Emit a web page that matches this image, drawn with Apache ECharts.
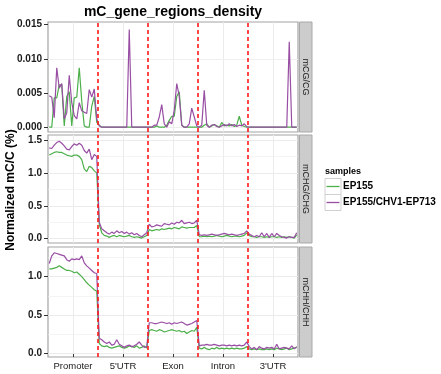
<!DOCTYPE html>
<html><head><meta charset="utf-8">
<script src="https://cdn.jsdelivr.net/npm/echarts@6/dist/echarts.min.js"></script>
<style>html,body{margin:0;padding:0;background:#fff}#c{width:441px;height:374px}</style>
</head><body><div id="c"></div>
<script>
// ---------- data ----------
const regions = ["Promoter", "5'UTR", "Exon", "Intron", "3'UTR"];
const sampleNames = ["EP155", "EP155/CHV1-EP713"];
const contexts = ["mCG/CG", "mCHG/CHG", "mCHH/CHH"];
const binsPerRegion = 20;

// mCG/CG
const cgEP155 = [
  0, 0, 0.0043, 0.0043, 0.0062, 0.0062, 0.0002, 0.0045, 0.0052, 0.0002, 0.0043, 0.0044, 0.0087, 0.0038, 0.0002, 0, 0, 0.0031, 0.0045, 0.0007,
  0.0003, 0, 0, 0, 0, 0, 0, 0, 0, 0, 0, 0, 0, 0, 0, 0, 0, 0, 0, 0,
  0, 0, 0, 0.0002, 0, 0, 0, 0.0003, 0.0010, 0.0016, 0.0016, 0.0045, 0.0052, 0.0003, 0, 0, 0, 0, 0, 0,
  0, 0, 0.0003, 0.0005, 0, 0.0002, 0.0004, 0.0002, 0, 0.0007, 0.0002, 0.0003, 0.0002, 0.0004, 0.0001, 0.0003, 0.0016, 0.0003, 0.0001, 0,
  0, 0, 0, 0, 0, 0, 0, 0, 0, 0, 0, 0, 0, 0, 0, 0, 0, 0, 0, 0
];
const cgEP713 = [
  0.0046, 0.0044, 0.0014, 0.0087, 0.0057, 0.0064, 0.0012, 0.0021, 0.0076, 0.0036, 0.0017, 0.0012, 0.0036, 0.0024, 0.0022, 0.0020, 0.0055, 0.0044, 0.0056, 0.0012,
  0.0002, 0, 0, 0, 0, 0, 0, 0, 0, 0, 0, 0, 0.0143, 0, 0, 0, 0, 0, 0, 0,
  0, 0, 0.0003, 0.0003, 0.0015, 0.0033, 0.0005, 0, 0.0008, 0.0005, 0.0025, 0.0064, 0.0045, 0.0003, 0, 0, 0.0005, 0.0028, 0.0015, 0.0002,
  0, 0.0003, 0.0054, 0.0003, 0, 0.0003, 0.0004, 0.0001, 0, 0.0002, 0.0004, 0.0002, 0.0005, 0.0002, 0.0004, 0.0001, 0.0003, 0.0002, 0.0005, 0.0001,
  0, 0, 0, 0, 0, 0, 0, 0, 0, 0, 0, 0, 0, 0, 0, 0, 0.0125, 0, 0, 0
];
// mCHG/CHG
const chgEP155 = [
  1.27, 1.29, 1.31, 1.32, 1.31, 1.31, 1.29, 1.27, 1.26, 1.25, 1.27, 1.27, 1.25, 1.20, 1.06, 1.02, 1.10, 1.08, 1.03, 1.00,
  0.22, 0.09, 0.05, 0.04, 0.02, 0.04, 0.05, 0.03, 0.05, 0.04, 0.03, 0.04, 0.05, 0.03, 0.02, 0.03, 0.02, 0.01, 0.03, 0.05,
  0.14, 0.12, 0.13, 0.14, 0.13, 0.15, 0.14, 0.15, 0.16, 0.15, 0.17, 0.16, 0.15, 0.18, 0.17, 0.16, 0.17, 0.17, 0.17, 0.20,
  0.03, 0.03, 0.04, 0.03, 0.04, 0.03, 0.04, 0.05, 0.04, 0.03, 0.04, 0.05, 0.04, 0.03, 0.04, 0.04, 0.03, 0.04, 0.05, 0.09,
  0.05, 0.03, 0.03, 0.02, 0.03, 0.03, 0.02, 0.03, 0.02, 0.03, 0.03, 0.02, 0.03, 0.02, 0.03, 0.02, 0.03, 0.02, 0.01, 0.06
];
const chgEP713 = [
  1.38, 1.37, 1.42, 1.46, 1.48, 1.45, 1.41, 1.36, 1.35, 1.40, 1.44, 1.42, 1.45, 1.42, 1.34, 1.30, 1.36, 1.20, 1.28, 1.25,
  0.25, 0.15, 0.12, 0.09, 0.07, 0.10, 0.08, 0.12, 0.09, 0.11, 0.08, 0.10, 0.07, 0.09, 0.06, 0.08, 0.05, 0.03, 0.06, 0.09,
  0.22, 0.18, 0.19, 0.21, 0.20, 0.19, 0.23, 0.22, 0.21, 0.24, 0.22, 0.25, 0.24, 0.28, 0.23, 0.24, 0.25, 0.23, 0.24, 0.28,
  0.06, 0.05, 0.06, 0.05, 0.06, 0.07, 0.06, 0.05, 0.06, 0.07, 0.08, 0.07, 0.06, 0.07, 0.06, 0.05, 0.06, 0.07, 0.08, 0.12,
  0.07, 0.05, 0.03, 0.05, 0.03, 0.09, 0.03, 0.08, 0.02, 0.08, 0.03, 0.08, 0.05, 0.03, 0.02, 0.01, 0.03, 0.02, 0.02, 0.09
];
// mCHH/CHH
const chhEP155 = [
  1.10, 1.10, 1.11, 1.12, 1.14, 1.12, 1.10, 1.08, 1.08, 1.07, 1.05, 1.06, 1.03, 1.00, 0.96, 0.92, 0.89, 0.86, 0.83, 0.81,
  0.13, 0.10, 0.09, 0.10, 0.08, 0.07, 0.08, 0.09, 0.10, 0.08, 0.07, 0.08, 0.10, 0.09, 0.08, 0.10, 0.07, 0.08, 0.10, 0.07,
  0.30, 0.31, 0.30, 0.29, 0.31, 0.30, 0.28, 0.29, 0.30, 0.31, 0.30, 0.29, 0.30, 0.28, 0.29, 0.26, 0.28, 0.30, 0.29, 0.34,
  0.07, 0.06, 0.08, 0.06, 0.05, 0.07, 0.06, 0.08, 0.06, 0.07, 0.06, 0.07, 0.06, 0.07, 0.06, 0.07, 0.06, 0.06, 0.07, 0.09,
  0.06, 0.05, 0.06, 0.05, 0.06, 0.05, 0.05, 0.06, 0.05, 0.06, 0.05, 0.07, 0.06, 0.05, 0.06, 0.07, 0.05, 0.06, 0.07, 0.08
];
const chhEP713 = [
  1.17, 1.27, 1.31, 1.30, 1.29, 1.28, 1.27, 1.22, 1.20, 1.23, 1.22, 1.23, 1.22, 1.27, 1.18, 1.14, 1.11, 1.08, 1.05, 1.04,
  0.20, 0.18, 0.15, 0.13, 0.15, 0.11, 0.12, 0.18, 0.12, 0.10, 0.08, 0.10, 0.11, 0.09, 0.10, 0.12, 0.15, 0.11, 0.08, 0.09,
  0.40, 0.40, 0.39, 0.39, 0.40, 0.41, 0.40, 0.39, 0.40, 0.38, 0.40, 0.39, 0.40, 0.41, 0.39, 0.37, 0.38, 0.39, 0.41, 0.43,
  0.10, 0.11, 0.11, 0.12, 0.11, 0.11, 0.12, 0.11, 0.10, 0.11, 0.11, 0.10, 0.11, 0.10, 0.11, 0.10, 0.11, 0.10, 0.11, 0.15,
  0.09, 0.06, 0.08, 0.05, 0.09, 0.07, 0.06, 0.08, 0.07, 0.08, 0.06, 0.12, 0.06, 0.07, 0.08, 0.07, 0.06, 0.10, 0.06, 0.09
];

// tick labels / grid breaks
const cgTicks = [0, 0.005, 0.010, 0.015];
const cgMinor = [0.0025, 0.0075, 0.0125];
const chgTicks = [0, 0.5, 1.0, 1.5];
const chgMinor = [0.25, 0.75, 1.25];
const chhTicks = [0, 0.5, 1.0];
const chhMinor = [0.25, 0.75, 1.25];

// ---------- layout / style ----------
const colors = ['#4DAF4A', '#984EA3'];
const FONT = '"Liberation Sans", Arial, Helvetica, sans-serif';
const plotLeft = 48, plotWidth = 250;
const gridTops = [22, 135, 247];
const gridHeights = [110, 108, 110];

const panels = [
  { series: [cgEP155, cgEP713], min: -0.0007, max: 0.0154, ticks: cgTicks, minor: cgMinor, digits: 3 },
  { series: [chgEP155, chgEP713], min: -0.065, max: 1.575, ticks: chgTicks, minor: chgMinor, digits: 1 },
  { series: [chhEP155, chhEP713], min: -0.045, max: 1.385, ticks: chhTicks, minor: chhMinor, digits: 1 }
];

const xMax = regions.length * binsPerRegion;
const boundaries = regions.slice(1).map((_, i) => (i + 1) * binsPerRegion);
const labelPos = regions.map((_, i) => i * binsPerRegion + binsPerRegion / 2);
const toXY = arr => arr.map((v, i) => [i + 0.5, v]);

const grid = [], xAxis = [], yAxis = [], series = [], graphic = [];

panels.forEach((p, gi) => {
  const isLast = gi === panels.length - 1;
  grid.push({ left: plotLeft, width: plotWidth, top: gridTops[gi], height: gridHeights[gi],
    show: true, backgroundColor: '#ffffff', borderColor: '#a3a3a3', borderWidth: 1.2 });
  xAxis.push({
    type: 'value', gridIndex: gi, min: 0, max: xMax, interval: binsPerRegion / 2,
    axisLine: { show: false },
    axisTick: { show: isLast, customValues: labelPos, length: 3.5, lineStyle: { color: '#333', width: 1 } },
    axisLabel: { show: isLast, customValues: labelPos, margin: 4.5, fontSize: 9.5, color: '#1a1a1a', fontFamily: FONT,
      formatter: v => regions[Math.round((v - binsPerRegion / 2) / binsPerRegion)] || '' },
    splitLine: { show: true, lineStyle: { color: '#ebebeb', width: 1 } }
  });
  yAxis.push({
    type: 'value', gridIndex: gi, min: p.min, max: p.max, splitNumber: 3,
    axisLine: { show: false },
    axisTick: { show: true, customValues: p.ticks, length: 4, lineStyle: { color: '#333', width: 1 } },
    axisLabel: { show: true, customValues: p.ticks, margin: 6, fontSize: 10, fontWeight: 'bold', color: '#1a1a1a', fontFamily: FONT,
      formatter: v => Number(v).toFixed(p.digits) },
    splitLine: { show: false }
  });
  // background grid lines (major + minor horizontal breaks)
  series.push({
    type: 'line', xAxisIndex: gi, yAxisIndex: gi, data: [], silent: true,
    markLine: { silent: true, symbol: 'none', animation: false, z: 1, label: { show: false },
      data: p.ticks.map(v => ({ yAxis: v, lineStyle: { color: '#ebebeb', width: 1, type: 'solid' } }))
        .concat(p.minor.map(v => ({ yAxis: v, lineStyle: { color: '#efefef', width: 0.7, type: 'solid' } }))) }
  });
  p.series.forEach((arr, si) => {
    const s = {
      type: 'line', name: sampleNames[si], xAxisIndex: gi, yAxisIndex: gi, data: toXY(arr),
      showSymbol: false, symbol: 'none', z: 3 + si,
      lineStyle: { color: colors[si], width: 1.2 }, itemStyle: { color: colors[si] }
    };
    if (si === 1) {
      s.markLine = { silent: true, symbol: 'none', animation: false, z: 6, label: { show: false },
        lineStyle: { color: '#ff1a1a', width: 1.6, type: [4, 3] },
        data: boundaries.map(b => ({ xAxis: b })) };
    }
    series.push(s);
  });
  // facet strip
  graphic.push({ type: 'rect', z: 10, shape: { x: 299.5, y: gridTops[gi], width: 12.5, height: gridHeights[gi] },
    style: { fill: '#cccccc', stroke: '#a8a8a8', lineWidth: 1 } });
  graphic.push({ type: 'text', z: 11, x: 305.8, y: gridTops[gi] + gridHeights[gi] / 2, rotation: -Math.PI / 2,
    style: { text: contexts[gi], fill: '#1a1a1a', font: '9px ' + FONT, textAlign: 'center', textVerticalAlign: 'middle' } });
});

// title and axis title
graphic.push({ type: 'text', z: 11, x: 173, y: 12,
  style: { text: 'mC_gene_regions_density', fill: '#000', font: 'bold 14px ' + FONT, textAlign: 'center', textVerticalAlign: 'middle' } });
graphic.push({ type: 'text', z: 11, x: 11, y: 190, rotation: Math.PI / 2,
  style: { text: 'Normalized mC/C (%)', fill: '#000', font: 'bold 12px ' + FONT, textAlign: 'center', textVerticalAlign: 'middle' } });

// legend
graphic.push({ type: 'text', z: 11, x: 325, y: 172,
  style: { text: 'samples', fill: '#000', font: 'bold 9px ' + FONT, textAlign: 'left', textVerticalAlign: 'middle' } });
sampleNames.forEach((n, i) => {
  const y0 = 178.5 + i * 16;
  graphic.push({ type: 'rect', z: 10, shape: { x: 325, y: y0, width: 16, height: 16 },
    style: { fill: '#fff', stroke: '#d0d0d0', lineWidth: 1 } });
  graphic.push({ type: 'line', z: 11, shape: { x1: 326.5, y1: y0 + 8, x2: 339.5, y2: y0 + 8 },
    style: { stroke: colors[i], lineWidth: 1.3 } });
  graphic.push({ type: 'text', z: 11, x: 343, y: y0 + 8,
    style: { text: n, fill: '#000', font: 'bold 10px ' + FONT, textAlign: 'left', textVerticalAlign: 'middle' } });
});

const chart = echarts.init(document.getElementById('c'), null, { renderer: 'canvas', width: 441, height: 374 });
chart.setOption({
  animation: false,
  backgroundColor: '#ffffff',
  grid, xAxis, yAxis, series, graphic
});
</script>
</body></html>
